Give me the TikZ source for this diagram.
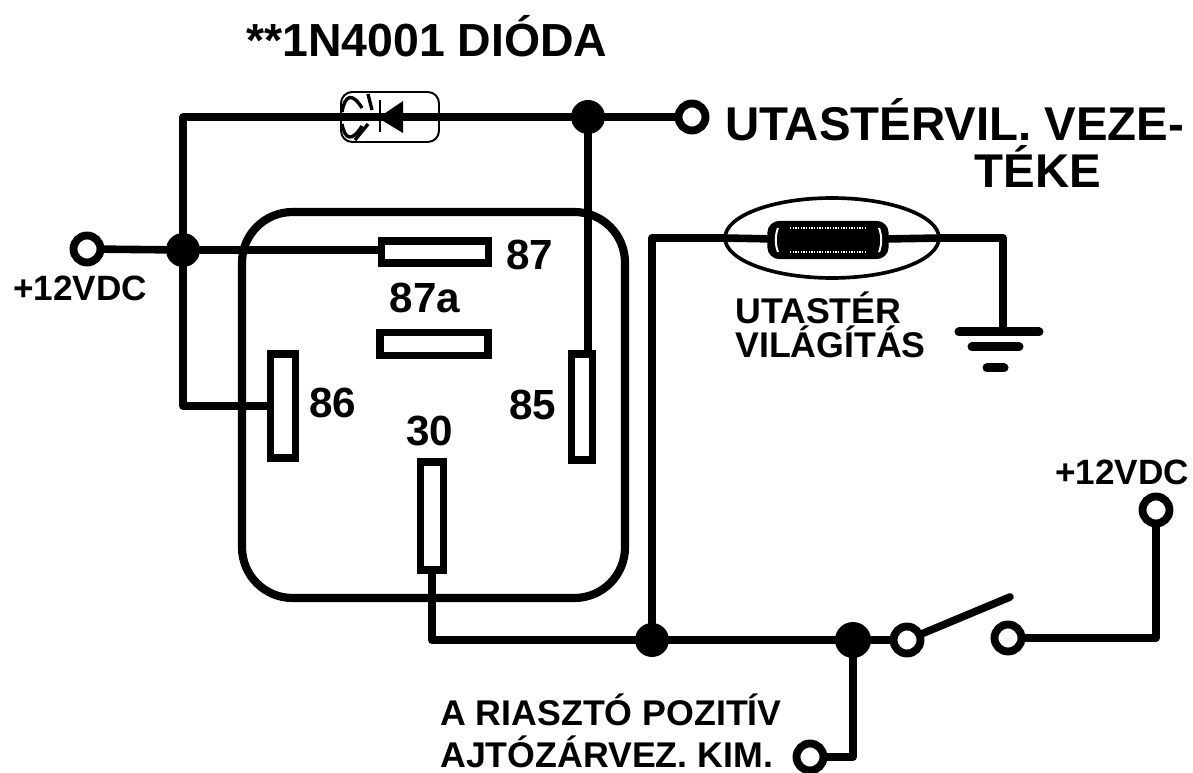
\documentclass[tikz,border=0pt]{standalone}
\usepackage{fontspec}
\setmainfont{Liberation Sans}
\usetikzlibrary{shapes.geometric}
\def\px{0.025cm}
\tikzset{
  wire/.style={line width=5.4pt, line cap=round, line join=round},
  junction/.style={circle, fill=black, inner sep=0pt, minimum size=34*\px},
  terminal/.style={circle, draw, fill=white, line width=5.6pt, inner sep=0pt, minimum size=27*\px},
  spade/.style={rectangle, draw, fill=white, line width=5pt, inner sep=0pt},
  pinlabel/.style={font=\fontsize{30}{30}\bfseries\selectfont, inner sep=0pt},
  biglabel/.style={font=\fontsize{33.7}{36}\bfseries\selectfont, inner sep=0pt},
  smalllabel/.style={font=\fontsize{25}{25}\bfseries\selectfont, inner sep=0pt},
  midlabel/.style={font=\fontsize{25.4}{25.4}\bfseries\selectfont, inner sep=0pt, anchor=west},
}
\begin{document}
\begin{tikzpicture}[x=\px, y=-\px]
\useasboundingbox (0,0) rectangle (1193,773);

% Relay housing and its pins
\node[draw, line width=5.8pt, rounded corners=36pt, inner sep=0pt, minimum width=383*\px, minimum height=386*\px] (relay) at (433.5,405) {};
\node[spade, minimum width=107*\px, minimum height=22*\px] (pin87) at (435,252) {};
\node[spade, minimum width=108*\px, minimum height=23*\px] (pin87a) at (434,344) {};
\node[spade, minimum width=25*\px, minimum height=104*\px] (pin86) at (283,406) {};
\node[spade, minimum width=21*\px, minimum height=106*\px] (pin85) at (582,407) {};
\node[spade, minimum width=23*\px, minimum height=108*\px] (pin30) at (432,516) {};

% Terminals and junctions
\node[terminal] (plusleft) at (87,249) {};
\node[terminal] (cabin) at (692,117) {};
\node[terminal] (swleft) at (907,640) {};
\node[terminal] (swright) at (1008,638) {};
\node[terminal] (plusright) at (1156,510) {};
\node[terminal] (alarm) at (810,757) {};
\node[junction] (jleft) at (183,250) {};
\node[junction] (jtop) at (588,117) {};
\node[junction] (jmid) at (652,640) {};
\node[junction, minimum size=36*\px] (jright) at (853,640) {};
\coordinate (armend) at (1010,597);

% Diode
\node[draw, line width=1.4pt, rounded corners=8pt, inner sep=0pt, minimum width=98*\px, minimum height=50*\px] (diode) at (390,117) {};
\draw[line width=2.4pt] (342,112) .. controls (345,95) and (352,92) .. (362,108);
\draw[line width=2.4pt] (342,124) .. controls (345,140) and (352,142) .. (362,126);
\draw[line width=2.4pt] (355,140) -- (368,124) (368,94) -- (372,110);
\fill (378,118) -- (403,101) -- (403,133) -- cycle;
\draw[line width=1.6pt] (380,100) -- (380,132);

% Cabin lamp
\node[ellipse, draw, fill=white, line width=2.6pt, inner sep=0pt, minimum width=214*\px, minimum height=80*\px] (lamp) at (832,238) {};

% Wires
\draw[wire] (plusleft) -- (jleft);
\draw[wire] (jleft) -- (pin87.west |- jleft);
\draw[wire] (jleft) |- (jtop);
\draw[wire] (jtop) -- (cabin);
\draw[wire] (jleft) |- (pin86);
\draw[wire] (jtop) -- (jtop |- pin85.north);
\draw[wire] (pin30) |- (jmid);
\draw[wire] (jmid) -- (jright);
\draw[wire] (jright) -- (swleft);
\draw[wire] (jmid) |- (lamp.west);
\draw[wire] (swright) -| (plusright);
\draw[wire] (jright) |- (alarm);
\draw[wire] (swleft) -- (armend);

% Lamp body and ground
\node[draw, fill=black, line width=3pt, rounded corners=7pt, inner sep=0pt, minimum width=117*\px, minimum height=34*\px] (bulb) at (828,240) {};
\draw[wire] (lamp.west) -- (bulb);
\draw[wire] (bulb) -- (lamp.east);
\draw[white, line width=1.4pt] (778,228) .. controls (775,236) and (775,244) .. (778,252);
\draw[white, line width=1.4pt] (879,228) .. controls (882,236) and (882,244) .. (879,252);
\draw[white, line width=0.9pt, densely dotted] (790,228) -- (866,228) (790,252) -- (866,252);
\draw[wire] (lamp.east) -- (1003,238) -- (1003,330);
\draw[line width=6.4pt, line cap=round] (959,332) -- (1039,332);
\draw[line width=6.4pt, line cap=round] (972,347) -- (1019,347);
\draw[line width=6.4pt, line cap=round] (987,368) -- (1004,368);

% Labels
\node[font=\fontsize{33}{33}\bfseries\selectfont, inner sep=0pt, anchor=west] (title) at (246,36) {**1N4001 DIÓDA};
\node[biglabel, anchor=west] (cabintext) at (725,120) {UTASTÉRVIL. VEZE-};
\node[biglabel] (cabintext2) at (1038,167) {TÉKE};
\node[pinlabel] (lab87) at (530,255) {87};
\node[pinlabel] (lab87a) at (425,298) {87a};
\node[pinlabel] (lab86) at (333,403) {86};
\node[pinlabel] (lab85) at (533,405) {85};
\node[pinlabel] (lab30) at (430,431) {30};
\node[smalllabel] (labplusleft) at (80,288) {+12VDC};
\node[smalllabel] (labplusright) at (1122,472) {+12VDC};
\node[midlabel] (labcabin) at (735,308) {UTASTÉR};
\node[midlabel] (labworld) at (735,342) {VILÁGÍTÁS};
\node[midlabel] (labalarm) at (440,710) {A RIASZTÓ POZITÍV};
\node[midlabel] (labdoor) at (440,752) {AJTÓZÁRVEZ. KIM.};
\end{tikzpicture}
\end{document}
